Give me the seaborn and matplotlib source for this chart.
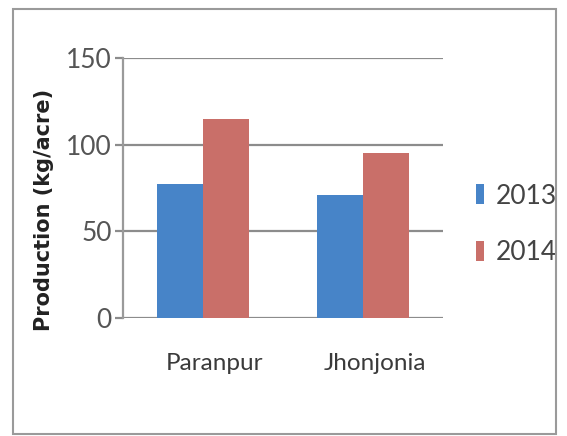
import pandas as pd
import seaborn as sns
import matplotlib.pyplot as plt
from matplotlib.patches import Rectangle
from matplotlib.transforms import ScaledTranslation

# values
villages = ["Paranpur", "Jhonjonia"]
years = ["2013", "2014"]
prod_2013 = [77.5, 71.2]
prod_2014 = [114.6, 95.4]
y_ticks = [0, 50, 100, 150]

df = pd.DataFrame({
    "village": villages * 2,
    "year": [years[0]] * 2 + [years[1]] * 2,
    "production": prod_2013 + prod_2014,
})

sns.set_style("white")
plt.rcParams['font.family'] = ['Lato', 'DejaVu Sans']

fig = plt.figure(figsize=(5.67, 4.36), dpi=100)
ax = fig.add_axes([123 / 567, 1 - 318 / 436, 320 / 567, 260 / 436])

sns.barplot(data=df, x="village", y="production", hue="year",
            palette=["#4784C8", "#C96F69"], width=0.58, gap=0,
            saturation=1, linewidth=0, ax=ax)

ax.set_ylim(0, 150)
ax.set_yticks(y_ticks)
ax.set_xlim(-0.5, 1.5)
ax.yaxis.grid(True, color="#8c8c8c", linewidth=1.6)
ax.set_axisbelow(True)
for s in ["top", "right", "bottom"]:
    ax.spines[s].set_visible(False)
ax.spines["left"].set_color("#9a9a9a")
ax.spines["left"].set_linewidth(1.6)
ax.tick_params(axis="y", left=True, length=6, width=1.6, color="#8c8c8c",
               labelsize=19, labelcolor="#555555", pad=2)
ax.tick_params(axis="x", bottom=False, labelsize=17.5, labelcolor="#3a3a3a", pad=22)
# category labels sit a little right of the bar groups
shift = ScaledTranslation(12 / 100, 0, fig.dpi_scale_trans)
for t in ax.get_xticklabels():
    t.set_transform(t.get_transform() + shift)
ax.set_xlabel("")
ax.set_ylabel("Production (kg/acre)", fontsize=15, fontweight="bold",
              color="#222222", family="DejaVu Sans")
ax.yaxis.set_label_coords(-0.215, 0.415)

leg = ax.legend(loc="center left", bbox_to_anchor=(1.03, 0.36), frameon=False,
                fontsize=19, handlelength=0.3, handleheight=0.8,
                handletextpad=0.45, labelspacing=1.2)
for t in leg.get_texts():
    t.set_color("#444444")

# outer frame round the whole chart
fig.add_artist(Rectangle((13 / 567, 2 / 436), 543 / 567, 425 / 436,
                         transform=fig.transFigure, fill=False,
                         edgecolor="#9a9a9a", linewidth=1.5))

fig.savefig("out.png", dpi=100)
